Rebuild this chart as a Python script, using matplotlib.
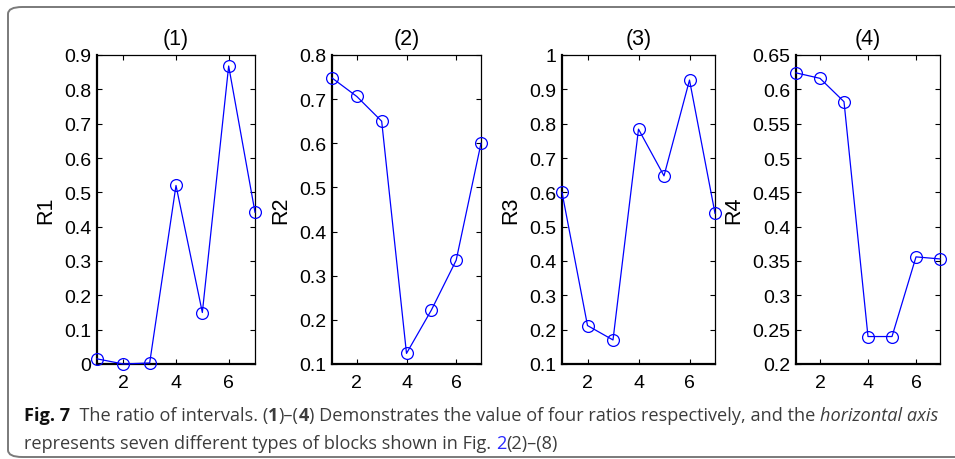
import matplotlib
matplotlib.use('Agg')
import matplotlib.pyplot as plt
from matplotlib.patches import FancyBboxPatch

W, H = 955, 460

x = [1, 2, 3, 4, 5, 6, 7]
r1 = [0.015, 0.0, 0.003, 0.52, 0.15, 0.868, 0.442]
r2 = [0.748, 0.706, 0.650, 0.124, 0.222, 0.335, 0.600]
r3 = [0.600, 0.212, 0.170, 0.784, 0.648, 0.927, 0.539]
r4 = [0.624, 0.616, 0.582, 0.240, 0.240, 0.356, 0.353]

titles = ['(1)', '(2)', '(3)', '(4)']
ylabels = ['R1', 'R2', 'R3', 'R4']
ylims = [(0, 0.9), (0.1, 0.8), (0.1, 1.0), (0.2, 0.65)]
yticks = [
    [0, 0.1, 0.2, 0.3, 0.4, 0.5, 0.6, 0.7, 0.8, 0.9],
    [0.1, 0.2, 0.3, 0.4, 0.5, 0.6, 0.7, 0.8],
    [0.1, 0.2, 0.3, 0.4, 0.5, 0.6, 0.7, 0.8, 0.9, 1],
    [0.2, 0.25, 0.3, 0.35, 0.4, 0.45, 0.5, 0.55, 0.6, 0.65],
]
ytick_labels = [
    ['0', '0.1', '0.2', '0.3', '0.4', '0.5', '0.6', '0.7', '0.8', '0.9'],
    ['0.1', '0.2', '0.3', '0.4', '0.5', '0.6', '0.7', '0.8'],
    ['0.1', '0.2', '0.3', '0.4', '0.5', '0.6', '0.7', '0.8', '0.9', '1'],
    ['0.2', '0.25', '0.3', '0.35', '0.4', '0.45', '0.5', '0.55', '0.6', '0.65'],
]
xticks = [2, 4, 6]

# axes boxes in pixels: left, right
boxes = [(97, 255), (332, 481), (562, 715), (796, 940)]
ax_top, ax_bot = 56, 365

plt.rcParams['font.family'] = ['Liberation Sans', 'DejaVu Sans']

fig = plt.figure(figsize=(W / 100, H / 100), dpi=100)

# rounded frame around figure + caption
frame = FancyBboxPatch((8 / W, 1 - 458 / H), 1.2, 450 / H,
                       boxstyle='round,pad=0,rounding_size=0.015',
                       transform=fig.transFigure, facecolor='none',
                       edgecolor='#7a7a7a', linewidth=1.4, clip_on=False)
fig.patches.append(frame)

series = [r1, r2, r3, r4]
for i in range(4):
    l, r = boxes[i]
    ax = fig.add_axes([l / W, 1 - ax_bot / H, (r - l) / W, (ax_bot - ax_top) / H])
    ax.plot(x, series[i], color='#0000ff', linewidth=0.9, marker='o',
            markersize=8.5, markerfacecolor='none', markeredgecolor='#0000ff',
            markeredgewidth=0.9, clip_on=False, zorder=3)
    ax.set_xlim(1, 7)
    ax.set_ylim(*ylims[i])
    ax.set_xticks(xticks)
    ax.set_yticks(yticks[i])
    ax.set_yticklabels(ytick_labels[i])
    ax.tick_params(direction='in', top=True, right=True, length=3.5,
                   width=0.8, labelsize=14, colors='black')
    ax.tick_params(axis='y', pad=4)
    ax.tick_params(axis='x', pad=7)
    ax.set_title(titles[i], fontsize=15.5, pad=8)
    ax.set_ylabel(ylabels[i], fontsize=15.5, labelpad=6)
    for s in ['left', 'bottom']:
        ax.spines[s].set_linewidth(1.6)
    for s in ['top', 'right']:
        ax.spines[s].set_linewidth(0.9)

# caption, drawn piece by piece
fig.canvas.draw()
renderer = fig.canvas.get_renderer()
cap_font = ['Open Sans', 'DejaVu Sans']
cap_size = 13.1
grey = '#3c3c3c'


def caption_line(pieces, x0, y0):
    xpos = x0
    for txt, weight, style, color in pieces:
        t = fig.text(xpos / W, 1 - y0 / H, txt, fontsize=cap_size, family=cap_font,
                     fontweight=weight, fontstyle=style, color=color,
                     va='baseline', ha='left')
        bb = t.get_window_extent(renderer=renderer)
        xpos += bb.width


line1 = [
    ('Fig. 7', 'bold', 'normal', '#111111'),
    ('  The ratio of intervals. (', 'normal', 'normal', grey),
    ('1', 'bold', 'normal', grey),
    (')\u2013(', 'normal', 'normal', grey),
    ('4', 'bold', 'normal', grey),
    (') Demonstrates the value of four ratios respectively, and the ', 'normal', 'normal', grey),
    ('horizontal axis', 'normal', 'italic', grey),
]
line2 = [
    ('represents seven different types of blocks shown in Fig.\u00a0', 'normal', 'normal', grey),
    ('2', 'normal', 'normal', '#2a2aff'),
    ('(2)\u2013(8)', 'normal', 'normal', grey),
]
caption_line(line1, 24, 421)
caption_line(line2, 24, 449)

fig.savefig('out.png', dpi=100)
